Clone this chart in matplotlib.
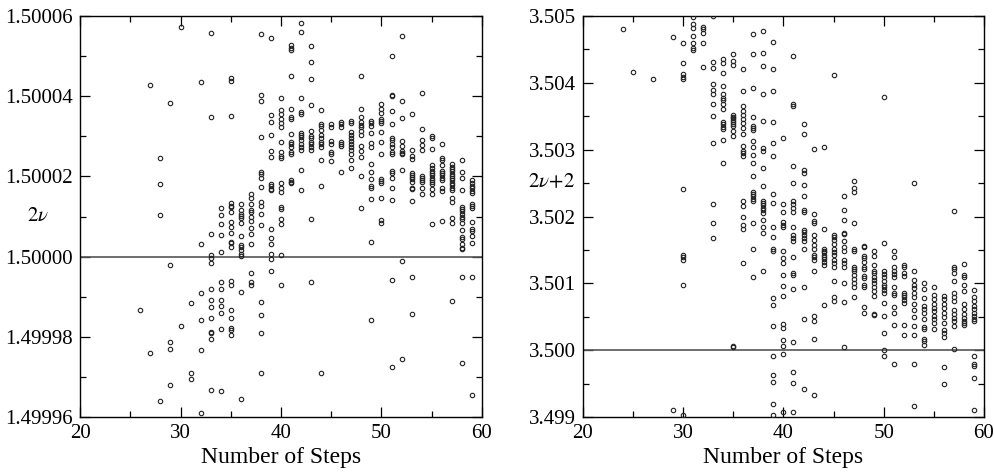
import matplotlib
matplotlib.use("Agg")
import matplotlib.pyplot as plt
from matplotlib.ticker import MultipleLocator, FormatStrFormatter
from matplotlib.transforms import blended_transform_factory

plt.rcParams['font.family'] = 'serif'
plt.rcParams['font.serif'] = ['Liberation Serif', 'DejaVu Serif']
plt.rcParams['mathtext.fontset'] = 'stix'

# left panel: estimates of 2nu, stored as (2nu - 1.5) in units of 1e-5
left_steps = list(range(26, 60))
left_dev = [
    [-1.32],
    [4.27, -2.41],
    [2.46, 1.81, 1.04, -3.61],
    [3.83, -0.2, -2.12, -2.31, -3.2],
    [5.73, -1.73],
    [-1.15, -2.91, -3.06],
    [4.35, 0.32, -0.9, -1.57, -2.32, -3.9],
    [5.57, 3.47, 0.57, 0.04, -0.03, -0.16, -0.8, -1.08, -1.25, -1.54, -1.87, -1.91, -2.06, -3.33],
    [1.22, 1.05, 0.82, 0.53, 0.11, -0.63, -0.8, -1.09, -1.22, -1.41, -1.8, -3.34],
    [4.46, 4.37, 3.5, 1.33, 1.26, 1.23, 1.11, 0.86, 0.74, 0.58, 0.37, 0.33, 0.24,
     -0.61, -0.72, -1.32, -1.54, -1.78, -1.82, -1.95],
    [1.32, 1.15, 1.07, 1.01, 0.96, 0.83, 0.52, 0.3, 0.24, 0.17, 0.07, 0.02, -0.89, -3.54],
    [1.55, 1.47, 1.32, 1.16, 1.11, 0.98, 0.88, 0.71, 0.56, 0.31, -0.4, -0.64, -0.71],
    [5.54, 4.02, 3.89, 2.99, 2.11, 2.05, 1.97, 1.73, 1.35, 1.25, 1.06, 0.8,
     -1.13, -1.46, -1.9, -2.91],
    [5.45, 3.53, 3.36, 3.03, 2.64, 2.49, 1.8, 1.76, 1.69, 1.65, 0.7, 0.46, 0.31, 0.06, -0.05, -0.35],
    [3.96, 3.66, 3.55, 3.44, 3.33, 3.24, 2.86, 2.61, 2.52, 2.47, 1.83, 1.71, 1.61,
     1.24, 1.18, 0.95, 0.81, 0.04, -0.72],
    [5.28, 5.21, 5.16, 4.51, 3.67, 3.49, 3.44, 3.05, 2.86, 2.8, 2.74, 2.61, 2.55, 1.91, 1.87, 1.84],
    [5.83, 5.61, 3.96, 3.61, 3.55, 3.09, 3.03, 2.99, 2.9, 2.8, 2.74, 2.67, 2.17, 1.65],
    [5.25, 4.85, 4.43, 3.77, 3.13, 3.02, 2.95, 2.86, 2.8, 2.74, 2.67, 0.95, -0.64],
    [3.66, 3.3, 3.25, 3.15, 3.03, 2.95, 2.86, 2.8, 2.74, 2.42, 1.77, -2.91],
    [3.3, 3.22, 2.88, 2.82, 2.61, 2.56, 2.38],
    [3.36, 3.3, 3.24, 2.86, 2.81, 2.77, 2.12],
    [3.37, 3.34, 3.11, 3.03, 2.95, 2.88, 2.82, 2.74, 2.66, 2.56, 2.42, 2.2],
    [4.51, 3.67, 3.48, 3.36, 3.29, 3.23, 3.14, 3.04, 2.76, 2.63, 2.48, 2.01, 1.2],
    [3.39, 3.34, 3.25, 3.07, 2.84, 2.74, 2.3, 2.12, 1.93, 1.76, 1.72, 1.44, 0.37, -1.57],
    [3.81, 3.68, 3.59, 3.44, 3.39, 3.32, 3.11, 2.87, 2.57, 1.93, 1.88, 1.84, 1.45, 0.92, 0.85],
    [5.0, 4.03, 4.01, 3.63, 3.31, 2.96, 2.9, 2.82, 2.74, 2.61, 2.56, 2.13, 2.08, 1.96,
     1.7, 1.41, -0.59, -2.76],
    [5.5, 3.88, 3.45, 2.88, 2.76, 2.64, 2.59, 2.55, 2.17, -0.1, -2.55],
    [3.55, 2.67, 2.5, 2.44, 2.09, 2.04, 1.99, 1.94, 1.87, 1.72, 1.68, 1.38, -0.5, -1.44],
    [4.08, 3.19, 2.9, 2.78, 2.67, 2.02, 1.97, 1.91, 1.87, 1.7, 1.55],
    [3.0, 2.96, 2.68, 2.28, 2.22, 2.14, 2.09, 2.03, 1.97, 1.91, 1.86, 1.8, 1.68, 1.55, 0.81],
    [2.82, 2.45, 2.41, 2.28, 2.14, 2.09, 2.03, 1.97, 1.91, 1.72, 1.64, 0.9],
    [2.3, 2.24, 2.18, 2.13, 2.07, 2.02, 1.95, 1.91, 1.83, 1.78, 1.72, 1.66, 1.47, 1.35,
     0.97, 0.85, -1.1],
    [2.4, 2.11, 1.97, 1.65, 1.24, 1.18, 1.13, 1.07, 1.0, 0.95, 0.85, 0.66, 0.49, 0.45,
     0.31, 0.22, 0.18, -0.5, -2.66],
    [1.91, 1.84, 1.77, 1.71, 1.64, 1.58, 1.31, 1.27, 1.22, 0.87, 0.7, 0.64, 0.51, 0.33, -0.52, -3.45],
]

# right panel: estimates of 2nu+2, stored as (2nu+2 - 3.5) in units of 1e-3
right_steps = [24, 25, 27] + list(range(29, 60))
right_dev = [
    [4.8],
    [4.16],
    [4.05],
    [4.69, -0.9],
    [4.59, 4.3, 4.13, 4.09, 4.06, 2.41, 1.42, 1.39, 1.35, 0.97, -0.97],
    [4.98, 4.88, 4.82, 4.7, 4.6, 4.52, 4.49],
    [4.83, 4.8, 4.74, 4.59, 4.24],
    [5.0, 4.31, 4.22, 3.98, 3.9, 3.84, 3.69, 3.51, 3.1, 2.18, 1.9, 1.68],
    [4.36, 4.3, 4.15, 3.96, 3.84, 3.78, 3.74, 3.69, 3.61, 3.42, 3.38, 3.34, 3.31, 3.14, 2.8],
    [4.43, 4.32, 4.26, 3.52, 3.49, 3.47, 3.44, 3.42, 3.38, 3.35, 3.28, 3.2, 0.06, 0.05],
    [4.21, 3.88, 3.65, 3.58, 3.52, 3.46, 3.4, 3.32, 3.23, 3.06, 2.98, 2.95, 2.91,
     2.23, 2.15, 1.99, 1.87, 1.82, 1.31],
    [4.73, 4.43, 3.93, 3.49, 3.35, 3.32, 3.29, 3.13, 3.04, 2.92, 2.8, 2.61, 2.36, 2.34,
     2.3, 2.26, 2.23, 1.9, 1.52, 1.1],
    [4.77, 4.45, 4.25, 3.84, 3.43, 3.02, 2.98, 2.73, 2.45, 2.23, 2.2, 2.17, 2.13, 2.1,
     2.05, 1.95, 1.85, 1.75, 1.18],
    [4.61, 4.21, 3.88, 3.42, 3.1, 2.9, 2.34, 2.2, 1.85, 1.69, 1.52, 1.49, 0.78, 0.67,
     0.36, -0.08, -0.37, -0.47, -0.81, -0.97],
    [3.17, 2.18, 2.06, 1.92, 1.87, 1.84, 1.49, 1.38, 1.31, 1.13, 0.96, 0.81, 0.39,
     0.33, 0.15, 0.06, -0.06, -0.92],
    [4.4, 3.68, 3.66, 2.75, 2.5, 2.23, 2.18, 2.13, 2.07, 1.84, 1.72, 1.68, 1.64, 1.39,
     1.15, 1.12, 0.91, 0.12, -0.33, -0.49, -0.92],
    [3.39, 3.24, 2.7, 2.65, 2.47, 2.3, 2.1, 2.06, 1.8, 1.77, 1.73, 1.68, 1.63, 1.52,
     0.94, 0.47, -0.58],
    [3.01, 2.04, 1.93, 1.91, 1.73, 1.65, 1.58, 1.52, 1.42, 1.39, 1.35, 1.19, 0.51, 0.44, 0.17, -0.67],
    [3.04, 1.81, 1.52, 1.49, 1.47, 1.42, 1.39, 1.36, 1.32, 1.28, 0.67],
    [4.11, 1.73, 1.7, 1.65, 1.59, 1.52, 1.47, 1.42, 1.35, 1.3, 1.25, 1.03, 0.79, 0.74],
    [2.31, 2.1, 1.95, 1.76, 1.74, 1.64, 1.55, 1.49, 1.35, 1.3, 1.25, 1.01, 0.72, 0.05],
    [2.53, 2.43, 2.36, 1.91, 1.51, 1.49, 1.25, 1.22, 1.18, 1.12, 1.06, 1.0, 0.94, 0.79],
    [1.56, 1.54, 1.41, 1.38, 1.32, 1.25, 1.22, 1.11, 1.08, 0.97, 0.95, 0.64, 0.55],
    [1.49, 1.41, 1.27, 1.19, 1.15, 1.09, 1.05, 1.0, 0.95, 0.88, 0.81, 0.54, 0.53],
    [3.79, 1.6, 1.18, 1.14, 1.1, 1.03, 0.98, 0.94, 0.9, 0.85, 0.71, 0.51, 0.26, 0.0, -0.09],
    [1.49, 1.4, 1.25, 1.18, 1.14, 1.1, 0.95, 0.85, 0.83, 0.64, 0.56, 0.37, -0.2],
    [1.27, 1.25, 1.15, 1.11, 0.85, 0.83, 0.79, 0.75, 0.71, 0.37, 0.22],
    [2.5, 1.19, 1.05, 0.97, 0.93, 0.85, 0.79, 0.69, 0.6, 0.49, 0.36, 0.23, -0.2, -0.83],
    [1.01, 0.92, 0.78, 0.66, 0.62, 0.56, 0.47, 0.34, 0.31, 0.16, 0.13, 0.07],
    [0.95, 0.82, 0.76, 0.69, 0.63, 0.59, 0.51, 0.47, 0.41, 0.32],
    [0.81, 0.76, 0.69, 0.63, 0.56, 0.5, 0.41, 0.3, 0.26, 0.2, -0.25, -0.5],
    [2.08, 1.25, 1.21, 1.15, 1.03, 0.85, 0.79, 0.73, 0.6, 0.54, 0.48, 0.43, 0.36, 0.02],
    [1.29, 1.12, 1.09, 0.97, 0.88, 0.69, 0.62, 0.54, 0.48, 0.44, 0.41, 0.37],
    [0.9, 0.79, 0.73, 0.66, 0.62, 0.56, 0.51, 0.47, 0.43, -0.09, -0.2, -0.24, -0.41, -0.9],
]

fig = plt.figure(figsize=(9.94, 4.72), dpi=100)
ax1 = fig.add_axes([0.0805, 0.1165, 0.4044, 0.8496])
ax2 = fig.add_axes([0.5865, 0.1165, 0.4034, 0.8496])


def draw_panel(ax, steps, devs, base, unit):
    xs, ys = [], []
    for s, col in zip(steps, devs):
        for d in col:
            xs.append(s)
            ys.append(base + d * unit)
    ax.plot(xs, ys, 'o', ms=3.2, mfc='none', mec='#222222', mew=0.8, zorder=3)
    ax.axhline(base, color='#555555', lw=1.2, zorder=2)
    ax.set_xlim(20, 60)
    ax.xaxis.set_major_locator(MultipleLocator(10))
    ax.xaxis.set_minor_locator(MultipleLocator(5))
    ax.tick_params(which='both', direction='in', top=True, right=True, labelsize=15)
    ax.tick_params(which='major', length=7, width=0.9, pad=5)
    ax.tick_params(which='minor', length=4, width=0.9)
    ax.set_xlabel('Number of Steps', fontsize=17, labelpad=3)
    for sp in ax.spines.values():
        sp.set_linewidth(1.0)


draw_panel(ax1, left_steps, left_dev, 1.5, 1e-5)
ax1.set_ylim(1.49996, 1.50006)
ax1.yaxis.set_major_locator(MultipleLocator(0.00002))
ax1.yaxis.set_minor_locator(MultipleLocator(0.00001))
ax1.yaxis.set_major_formatter(FormatStrFormatter('%.5f'))
tr1 = blended_transform_factory(ax1.transAxes, ax1.transData)
ax1.text(-0.105, 1.50001, r'$2\nu$', transform=tr1, ha='center', va='center', fontsize=15)

draw_panel(ax2, right_steps, right_dev, 3.5, 1e-3)
ax2.set_ylim(3.499, 3.505)
ax2.yaxis.set_major_locator(MultipleLocator(0.001))
ax2.yaxis.set_minor_locator(MultipleLocator(0.0005))
ax2.yaxis.set_major_formatter(FormatStrFormatter('%.3f'))
tr2 = blended_transform_factory(ax2.transAxes, ax2.transData)
ax2.text(-0.02, 3.5025, r'$2\nu\!+\!2$', transform=tr2, ha='right', va='center', fontsize=15)

fig.savefig('out.png', dpi=100)
